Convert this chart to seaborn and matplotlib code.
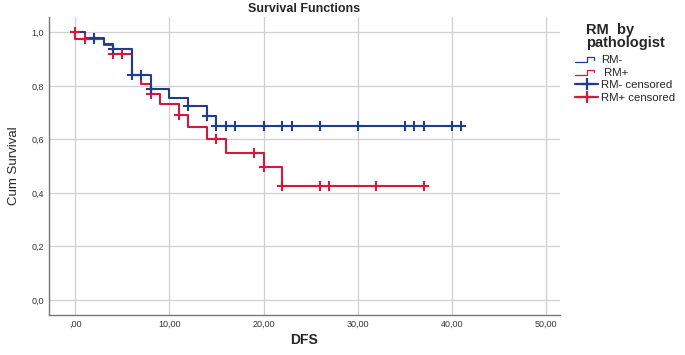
import numpy as np
import pandas as pd
import matplotlib
matplotlib.use('Agg')
import matplotlib.pyplot as plt
import seaborn as sns
from matplotlib.lines import Line2D
from matplotlib.legend_handler import HandlerBase

# 生存曲线的阶梯数据 (时间, 累计生存率)
neg_times = [0, 1, 3, 4, 6, 8, 10, 12, 14, 15, 41]
neg_surv = [1.0, 0.980, 0.958, 0.938, 0.841, 0.787, 0.756, 0.723, 0.689, 0.651, 0.651]
neg_censor = [2, 4, 6, 7, 8, 12, 14, 15, 16, 17, 20, 22, 23, 26, 30, 35, 36, 37, 40, 41]

pos_times = [0, 0, 3, 4, 6, 7, 8, 9, 11, 12, 14, 16, 20, 22, 37]
pos_surv = [1.0, 0.976, 0.952, 0.918, 0.841, 0.806, 0.770, 0.733, 0.692, 0.645, 0.600, 0.550, 0.495, 0.426, 0.426]
pos_censor = [0, 1, 2, 4, 5, 8, 11, 15, 19, 20, 22, 26, 27, 32, 37]

groups = ['RM-', 'RM+']
colors = {'RM-': '#1F3D8A', 'RM+': '#D8173C'}
x_ticks = [0, 10, 20, 30, 40, 50]
x_labels = [',00', '10,00', '20,00', '30,00', '40,00', '50,00']
y_ticks = [0.0, 0.2, 0.4, 0.6, 0.8, 1.0]
y_labels = ['0,0', '0,2', '0,4', '0,6', '0,8', '1,0']


def step_value(times, surv, t):
    # 删失点取该时刻之后的生存率
    val = surv[0]
    for ti, si in zip(times, surv):
        if ti <= t:
            val = si
    return val


curves = pd.DataFrame({
    'time': neg_times + pos_times,
    'surv': neg_surv + pos_surv,
    'group': ['RM-'] * len(neg_times) + ['RM+'] * len(pos_times),
})
cens = pd.DataFrame({
    'time': neg_censor + pos_censor,
    'surv': [step_value(neg_times, neg_surv, t) for t in neg_censor]
            + [step_value(pos_times, pos_surv, t) if t > 0 else 1.0 for t in pos_censor],
    'group': ['RM-'] * len(neg_censor) + ['RM+'] * len(pos_censor),
})


class StepHandler(HandlerBase):
    # 图例里的小阶梯图标
    def create_artists(self, legend, orig_handle, xdescent, ydescent, width, height, fontsize, trans):
        x = np.array([0.0, 0.5, 0.5, 0.82, 0.82]) * width - xdescent
        y = np.array([0.15, 0.15, 0.75, 0.75, 0.45]) * height - ydescent
        line = Line2D(x, y, color=orig_handle.get_color(), lw=0.9, transform=trans)
        return [line]


sns.set_style('white')
plt.rcParams['font.family'] = ['Liberation Sans', 'DejaVu Sans']

fig = plt.figure(figsize=(6.85, 3.55), dpi=100)
ax = fig.add_axes([0.0715, 0.1127, 0.746, 0.8385])

# 先画红线，再画蓝线
for g in ['RM+', 'RM-']:
    sub = curves[curves['group'] == g]
    sns.lineplot(data=sub, x='time', y='surv', color=colors[g], estimator=None, sort=False,
                 drawstyle='steps-post', lw=1.5, ax=ax, legend=False)
for g in ['RM+', 'RM-']:
    sub = cens[cens['group'] == g]
    sns.scatterplot(data=sub, x='time', y='surv', color=colors[g], marker='+', s=45,
                    linewidth=1.5, ax=ax, legend=False, zorder=3)

ax.set_xlim(-2.8, 51.5)
ax.set_ylim(-0.056, 1.056)
ax.set_xticks(x_ticks)
ax.set_xticklabels(x_labels)
ax.set_yticks(y_ticks)
ax.set_yticklabels(y_labels)
ax.tick_params(axis='both', labelsize=6.5, length=0, pad=3.6, colors='#333333')
ax.grid(True, color='#d0d0d0', lw=0.9)
ax.set_axisbelow(True)
for s in ['top', 'right']:
    ax.spines[s].set_visible(False)
for s in ['left', 'bottom']:
    ax.spines[s].set_color('#777777')
    ax.spines[s].set_linewidth(1.0)

ax.set_xlabel('DFS', fontsize=10, fontweight='bold', labelpad=3)
ax.set_ylabel('Cum Survival', fontsize=9.5, labelpad=8)
ax.set_title('Survival Functions', fontsize=9, fontweight='bold', pad=4)

handles = [Line2D([], [], color=colors['RM-']), Line2D([], [], color=colors['RM+']),
           Line2D([], [], color=colors['RM-'], lw=1.6, marker='+', ms=9, mew=1.6),
           Line2D([], [], color=colors['RM+'], lw=1.6, marker='+', ms=9, mew=1.6)]
labels = ['RM-', ' RM+', 'RM- censored', 'RM+ censored']
leg = fig.legend(handles, labels, loc='upper left', bbox_to_anchor=(0.825, 0.964),
                 frameon=False, fontsize=8.2, title='RM  by\npathologist',
                 handlelength=2.0, handletextpad=0.25, labelspacing=0.22,
                 handler_map={handles[0]: StepHandler(), handles[1]: StepHandler()})
leg.get_title().set_fontweight('bold')
leg.get_title().set_fontsize(10.5)
leg.get_title().set_linespacing(0.95)
leg._legend_box.sep = 3.5  # 标题和条目之间的间距

fig.savefig('out.png', dpi=100)
